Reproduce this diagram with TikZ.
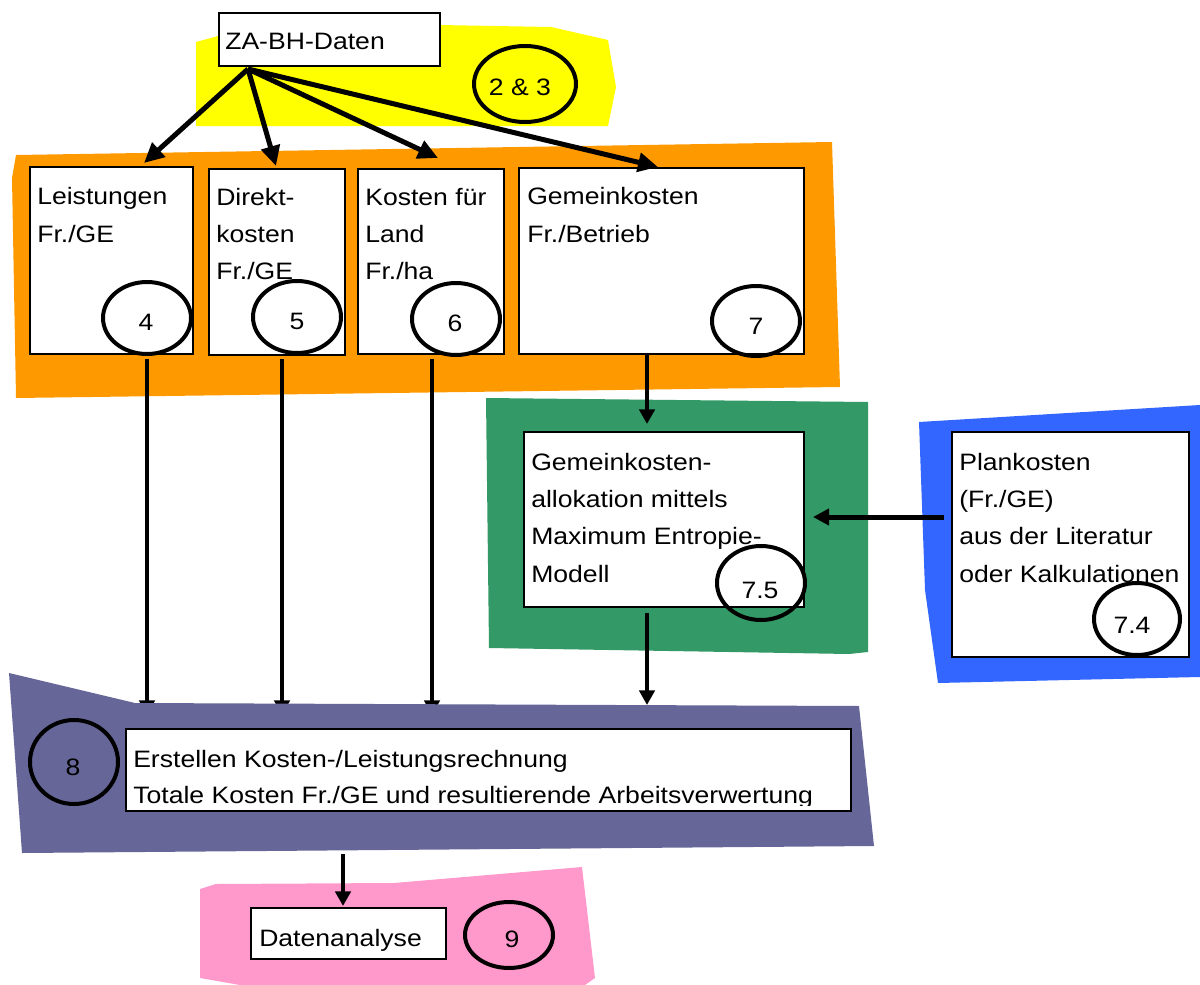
\documentclass[tikz,border=0pt]{standalone}
\usepackage{fontspec}
\setmainfont{Liberation Sans}[FakeStretch=1.12]
\usetikzlibrary{arrows.meta,fit,calc}
\definecolor{cyellow}{HTML}{FFFF00}
\definecolor{corange}{HTML}{FF9900}
\definecolor{cgreen}{HTML}{339966}
\definecolor{cblue}{HTML}{3366FF}
\definecolor{cpurple}{HTML}{666699}
\definecolor{cpink}{HTML}{FF99CC}
\pgfdeclarelayer{back}
\pgfdeclarelayer{arr}
\pgfsetlayers{back,arr,main}
\begin{document}
\begin{tikzpicture}[x=0.75pt,y=-0.75pt,
  box/.style={draw=black, fill=white, line width=1.5pt, inner sep=0pt},
  txt/.style={font=\fontsize{17.8pt}{28pt}\selectfont, inner sep=0pt, align=left, anchor=base west},
  num/.style={font=\fontsize{17.8pt}{20pt}\selectfont, inner sep=0pt},
  ring/.style={draw=black, line width=3pt},
  arrA/.style={line width=3.75pt, -{Triangle[length=15pt,width=14pt]}},
  arrB/.style={line width=3pt, -{Triangle[length=11pt,width=11.5pt]}},
  arrC/.style={line width=3.75pt, -{Triangle[length=12pt,width=12pt]}}
]
\useasboundingbox (0,0) rectangle (1200,985);

\begin{pgfonlayer}{back}
\fill[cyellow] (196,126) -- (196,42) -- (218,36) -- (439,25) -- (551,27) -- (608,40) -- (616,87) -- (608,126) -- cycle;
\fill[corange] (16,155) -- (832,142) -- (840,387) -- (16,398) -- (12,178) -- cycle;
\fill[cgreen] (486,398) -- (868,402) -- (868,652) -- (849,654) -- (489,648) -- cycle;
\fill[cblue] (919,422) -- (1200,405) -- (1200,677) -- (938,683) -- (925,590) -- cycle;
\fill[cpink] (200,889) -- (216,884) -- (394,883) -- (582,867) -- (595,978) -- (585,985) -- (240,985) -- (200,978) -- cycle;
\end{pgfonlayer}

% boxes
\node[box, fit={(219,13)(440,66)}] (za) {};
\node[box, fit={(30,167)(193,354)}] (leist) {};
\node[box, fit={(209,169)(345,355)}] (direkt) {};
\node[box, fit={(358,169)(504,354)}] (land) {};
\node[box, fit={(519,168)(804,354)}] (gemein) {};
\node[box, fit={(524,432)(804,607)}] (alloc) {};
\node[box, fit={(952,432)(1189,657)}] (plan) {};
\node[box, fit={(251,908)(446,959)}] (daten) {};

% texts (anchor = baseline of the last line)
\node[txt] (tza) at (225,50) {ZA-BH-Daten};
\node[txt] (tleist) at (37,242.3) {Leistungen\\Fr./GE};
\node[txt] (tdirekt) at (216,279.7) {Direkt-\\kosten\\Fr./GE};
\node[txt] (tland) at (365,279.7) {Kosten für\\Land\\Fr./ha};
\node[txt] (tgemein) at (527,242.3) {Gemeinkosten\\Fr./Betrieb};
\node[txt] (talloc) at (531,582) {Gemeinkosten-\\allokation mittels\\Maximum Entropie-\\Modell};
\node[txt] (tplan) at (959,582) {Plankosten\\(Fr./GE)\\aus der Literatur\\oder Kalkulationen};
\node[txt] (tdaten) at (259,946) {Datenanalyse};

% arrows from ZA-BH-Daten
\draw[arrA] ($(za.south west)+(30,2)$) -- ($(leist.north west)+(115,-3)$);
\draw[arrA] ($(za.south west)+(30,2)$) -- ($(direkt.north west)+(68,-2)$);
\draw[arrA] ($(za.south west)+(30,2)$) -- ($(land.north west)+(81,-10)$);
\draw[arrA] ($(za.south west)+(30,2)$) -- ($(gemein.north west)+(140,0)$);

% gemein -> alloc, plan -> alloc
\draw[arrB] ($(gemein.south west)+(129,0)$) -- ($(alloc.north west)+(124,-7)$);
\draw[arrC] ($(plan.west)+(-7,-27.5)$) -- ($(alloc.east)+(8,-2.5)$);

% purple block
\fill[cpurple] (9,673) -- (135,703) -- (859,706) -- (874,846) -- (22,853) -- cycle;
\node[box, fit={(126,729)(851,811)}] (erst) {};
\begin{scope}
\clip (126,729) rectangle (851,805);
\node[txt, font=\fontsize{17.8pt}{27pt}\selectfont] (terst) at (133,803) {Erstellen Kosten-/Leistungsrechnung\\Totale Kosten Fr./GE und resultierende Arbeitsverwertung};
\end{scope}

\begin{pgfonlayer}{arr}
\draw[arrB] ($(leist.south west)+(118,4)$) -- ($(erst.north west)+(22,-13)$);
\draw[arrB] ($(direkt.south west)+(74,3)$) -- ($(erst.north west)+(157,-13)$);
\draw[arrB] ($(land.south west)+(75,4)$) -- ($(erst.north west)+(307,-13)$);
\draw[arrB] ($(alloc.south west)+(124,5)$) -- ($(erst.north west)+(522,-23)$);
\end{pgfonlayer}

\draw[arrB] ($(erst.south west)+(218,42)$) -- ($(daten.north west)+(93,-1)$);

% rings
\draw[ring] (525,84) ellipse [x radius=51, y radius=38];
\draw[ring] (147,318) ellipse [x radius=44, y radius=36];
\draw[ring] (297,317) ellipse [x radius=44, y radius=36];
\draw[ring] (456,319) ellipse [x radius=44, y radius=36];
\draw[ring] (756,321) ellipse [x radius=44, y radius=35];
\draw[ring] (761,583) ellipse [x radius=44, y radius=37];
\draw[ring] (1137,619) ellipse [x radius=43, y radius=36];
\draw[ring] (74,762) ellipse [x radius=44, y radius=42];
\draw[ring] (509,935) ellipse [x radius=44, y radius=33];

\node[num] (n23) at (520,87) {2 \& 3};
\node[num] (n4) at (146,322) {4};
\node[num] (n5) at (297,321) {5};
\node[num] (n6) at (455,323) {6};
\node[num] (n7) at (756,326) {7};
\node[num] (n75) at (760,590) {7.5};
\node[num] (n74) at (1132,625) {7.4};
\node[num] (n8) at (73,767) {8};
\node[num] (n9) at (512,939) {9};
\end{tikzpicture}
\end{document}
